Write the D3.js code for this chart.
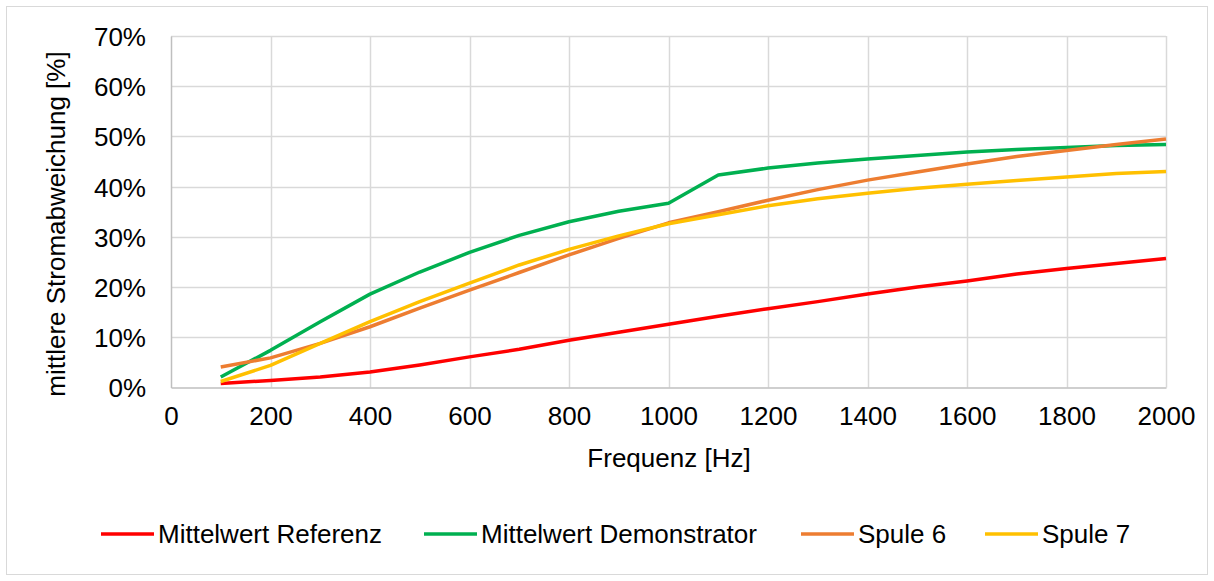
<!DOCTYPE html>
<html>
<head>
<meta charset="utf-8">
<script src="https://cdn.jsdelivr.net/npm/d3@7"></script>
<style>
  body { margin: 0; background: #fff; }
  svg text { font-family: "Liberation Sans", Arial, sans-serif; fill: #000; }
</style>
</head>
<body>
<svg id="chart" width="1214" height="581"></svg>
<script>
// Daten
const frequencies = [100, 200, 300, 400, 500, 600, 700, 800, 900, 1000,
                     1100, 1200, 1300, 1400, 1500, 1600, 1700, 1800, 1900, 2000];
const referenz = [0.8, 1.4, 2.1, 3.1, 4.5, 6.1, 7.6, 9.4, 11.0, 12.6,
                  14.2, 15.7, 17.1, 18.6, 20.0, 21.2, 22.6, 23.7, 24.7, 25.7];
const demonstrator = [2.1, 7.4, 13.1, 18.6, 23.0, 26.9, 30.3, 33.0, 35.1, 36.7,
                      42.3, 43.7, 44.7, 45.5, 46.2, 46.9, 47.4, 47.8, 48.2, 48.4];
const spule6 = [4.1, 5.9, 8.8, 12.1, 15.8, 19.4, 22.9, 26.4, 29.7, 32.8,
                35.0, 37.3, 39.4, 41.3, 42.9, 44.5, 46.0, 47.2, 48.4, 49.5];
const spule7 = [1.2, 4.4, 8.8, 13.1, 17.1, 20.8, 24.4, 27.5, 30.2, 32.6,
                34.4, 36.2, 37.6, 38.7, 39.7, 40.5, 41.2, 41.9, 42.6, 43.0];
const xTicks = [0, 200, 400, 600, 800, 1000, 1200, 1400, 1600, 1800, 2000];
const yTicks = [0, 10, 20, 30, 40, 50, 60, 70];

const series = [
  { name: "Mittelwert Referenz", values: referenz, color: "#FF0000" },
  { name: "Mittelwert Demonstrator", values: demonstrator, color: "#00B050" },
  { name: "Spule 6", values: spule6, color: "#ED7D31" },
  { name: "Spule 7", values: spule7, color: "#FFC000" }
];

const fontSize = "26px";
const svg = d3.select("#chart");

// Rahmen um das Diagramm
svg.append("rect")
   .attr("x", 6.5).attr("y", 6.5)
   .attr("width", 1201).attr("height", 568)
   .attr("fill", "#fff").attr("stroke", "#d9d9d9");

const margin = { top: 36, left: 171, right: 48, bottom: 193.5 };
const width = 1214 - margin.left - margin.right;
const height = 581 - margin.top - margin.bottom;

const g = svg.append("g").attr("transform", `translate(${margin.left}, ${margin.top})`);

const x = d3.scaleLinear().domain([0, 2000]).range([0, width]);
const y = d3.scaleLinear().domain([0, 70]).range([height, 0]);

// Gitterlinien
g.append("g")
 .selectAll("line.h")
 .data(yTicks.slice(1))
 .enter().append("line")
 .attr("x1", 0).attr("x2", width)
 .attr("y1", d => Math.round(y(d)) + 0.5).attr("y2", d => Math.round(y(d)) + 0.5)
 .attr("stroke", "#d9d9d9").attr("stroke-width", 1.5);

g.append("g")
 .selectAll("line.v")
 .data(xTicks.slice(1))
 .enter().append("line")
 .attr("x1", d => Math.round(x(d)) + 0.5).attr("x2", d => Math.round(x(d)) + 0.5)
 .attr("y1", 0).attr("y2", height)
 .attr("stroke", "#d9d9d9").attr("stroke-width", 1.5);

// Achsen
const xAxis = d3.axisBottom(x).tickValues(xTicks).tickSize(0).tickPadding(19)
                .tickFormat(d3.format("d"));
const yAxis = d3.axisLeft(y).tickValues(yTicks).tickSize(0).tickPadding(25)
                .tickFormat(d => d + "%");

const gx = g.append("g").attr("transform", `translate(0, ${height})`).call(xAxis);
const gy = g.append("g").call(yAxis);

[gx, gy].forEach(a => {
  a.select(".domain").attr("stroke", "#bfbfbf").attr("stroke-width", 1.5);
  a.selectAll("text").style("font-size", fontSize).attr("fill", "#000");
});
gx.selectAll("text").attr("dy", "0.71em");
gy.selectAll("text").attr("dy", "0.36em");

// Linien
const line = d3.line()
  .x((d, i) => x(frequencies[i]))
  .y(d => y(d));

g.selectAll("path.serie")
 .data(series)
 .enter().append("path")
 .attr("class", "serie")
 .attr("d", d => line(d.values))
 .attr("fill", "none")
 .attr("stroke", d => d.color)
 .attr("stroke-width", 3.5)
 .attr("stroke-linejoin", "round");

// Achsentitel
svg.append("text")
   .attr("x", 669).attr("y", 467)
   .attr("text-anchor", "middle")
   .style("font-size", fontSize)
   .text("Frequenz [Hz]");

svg.append("text")
   .attr("transform", "translate(65, 224) rotate(-90)")
   .attr("text-anchor", "middle")
   .style("font-size", fontSize)
   .text("mittlere Stromabweichung [%]");

// Legende
const legendX = [101, 424, 801, 985];
const legend = svg.selectAll("g.legend")
  .data(series)
  .enter().append("g")
  .attr("transform", (d, i) => `translate(${legendX[i]}, 534)`);

legend.append("line")
  .attr("x1", 0).attr("x2", 53)
  .attr("stroke", d => d.color).attr("stroke-width", 3.5);

legend.append("text")
  .attr("x", 57).attr("dy", "0.36em")
  .style("font-size", fontSize)
  .text(d => d.name);
</script>
</body>
</html>
